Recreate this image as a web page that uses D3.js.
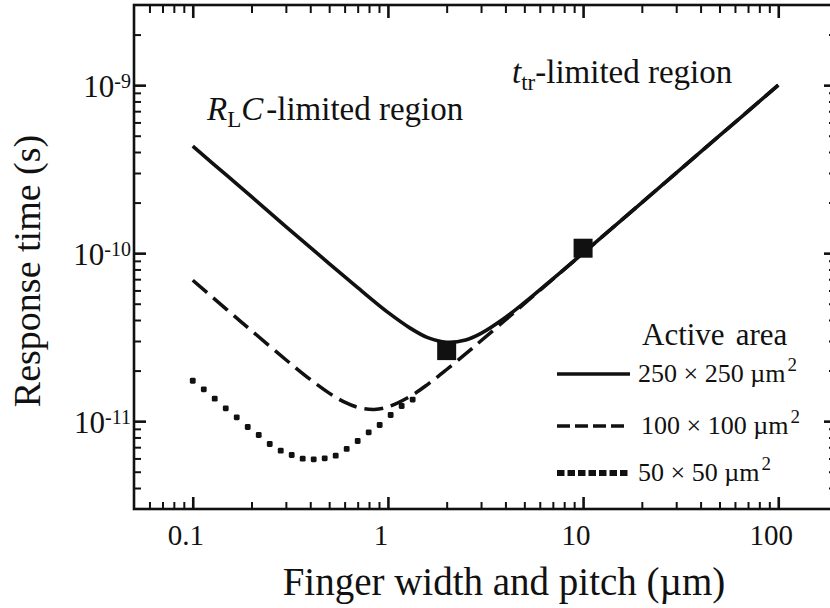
<!DOCTYPE html>
<html><head><meta charset="utf-8">
<script src="https://cdn.jsdelivr.net/npm/d3@7"></script>
<style>
body{margin:0;background:#fff}
svg{display:block}
text{font-family:"Liberation Serif","Times New Roman",serif;fill:#111}
.axis path,.axis line{stroke:#111;stroke-width:2.6;fill:none}
.minor line{stroke-width:2}
</style>
</head><body>
<svg id="c" width="830" height="608"></svg>
<script>
// ---- data ----
const widths   = [0.1, 0.15, 0.2, 0.3, 0.4, 0.5, 0.6, 0.7, 0.85, 1, 1.3, 1.6, 2, 2.5, 3, 4, 5, 7, 10, 20, 50, 100];
const area250  = [4.33e-10, 2.89e-10, 2.17e-10, 1.44e-10, 1.083e-10, 8.67e-11, 7.24e-11, 6.23e-11, 5.16e-11, 4.44e-11, 3.58e-11, 3.14e-11, 2.95e-11, 3.04e-11, 3.33e-11, 4.14e-11, 5.07e-11, 7.03e-11, 1.0e-10, 2.0e-10, 5.0e-10, 1.0e-9];
const area100  = [6.9e-11, 4.6e-11, 3.456e-11, 2.32e-11, 1.771e-11, 1.468e-11, 1.297e-11, 1.209e-11, 1.175e-11, 1.215e-11, 1.404e-11, 1.657e-11, 2.03e-11, 2.515e-11, 3.009e-11, 4.0e-11, 5.0e-11, 7.0e-11, 1.0e-10, 2.0e-10, 5.0e-10, 1.0e-9];
const dotWidths = [0.1, 0.1139, 0.1296, 0.1476, 0.168, 0.1913, 0.2178, 0.248, 0.2823, 0.3214, 0.3659, 0.4166, 0.4743, 0.54, 0.6148, 0.7, 0.797, 0.9073, 1.033, 1.176, 1.339];
const area50   = [1.74e-11, 1.547e-11, 1.36e-11, 1.192e-11, 1.054e-11, 9.23e-12, 8.27e-12, 7.31e-12, 6.67e-12, 6.29e-12, 5.98e-12, 5.93e-12, 6.01e-12, 6.23e-12, 6.83e-12, 7.62e-12, 8.58e-12, 9.49e-12, 1.088e-11, 1.231e-11, 1.345e-11];
const markerWidths = [2, 10];
const markerTimes  = [2.63e-11, 1.07e-10];
const xTickValues = [0.1, 1, 10, 100];
const xTickLabels = ["0.1", "1", "10", "100"];
const yTickValues = [1e-11, 1e-10, 1e-9];
const yTickExponents = ["-11", "-10", "-9"];
const legendLabels = ["250 \u00d7 250 \u00b5m", "100 \u00d7 100 \u00b5m", "50 \u00d7 50 \u00b5m"];

// ---- scales ----
const L = 134, R = 837, T = 5, B = 509;
const x = d3.scaleLog().domain([0.05, 200]).range([L, R]);
const y = d3.scaleLog().domain([3e-12, 3e-9]).range([B, T]);
const svg = d3.select("#c");

const isDecade = v => Math.abs(Math.log10(v) - Math.round(Math.log10(v))) < 1e-6;
const inside = (s, v) => { const d = s.domain(); return v > d[0] * 1.001 && v < d[1] * 0.999; };
const xMinor = x.ticks(40).filter(v => !isDecade(v) && inside(x, v));
const yMinor = y.ticks(40).filter(v => !isDecade(v) && inside(y, v));

function ax(gen, tr, vals, size, cls) {
  const g = svg.append("g").attr("class", "axis " + cls).attr("transform", tr)
    .call(gen.tickValues(vals).tickSizeInner(size).tickSizeOuter(0).tickFormat(""));
  g.select(".domain").remove();
  return g;
}
// major & minor ticks on all four sides (inward)
ax(d3.axisBottom(x), `translate(0,${B})`, xTickValues, -12, "");
ax(d3.axisBottom(x), `translate(0,${B})`, xMinor, -7, "minor");
ax(d3.axisTop(x), `translate(0,${T})`, xTickValues, -13, "");
ax(d3.axisTop(x), `translate(0,${T})`, xMinor, -8, "minor");
ax(d3.axisLeft(y), `translate(${L},0)`, yTickValues, -12, "");
ax(d3.axisLeft(y), `translate(${L},0)`, yMinor, -7, "minor");
ax(d3.axisRight(y), `translate(${R},0)`, yTickValues, -13, "");
ax(d3.axisRight(y), `translate(${R},0)`, yMinor, -8, "minor");

// frame
svg.append("rect").attr("x", x.range()[0]).attr("y", y.range()[1])
  .attr("width", x.range()[1] - x.range()[0]).attr("height", y.range()[0] - y.range()[1])
  .attr("fill", "none").attr("stroke", "#111").attr("stroke-width", 2.6);

// tick labels
svg.append("g").selectAll("text").data(xTickValues).join("text")
  .attr("x", (d) => x(d) - 7).attr("y", 545).attr("text-anchor", "middle")
  .attr("font-size", 29).text((d, i) => xTickLabels[i]);
const yl = svg.append("g").selectAll("text").data(yTickValues).join("text")
  .attr("x", 131).attr("y", d => y(d) + 12).attr("text-anchor", "end").attr("font-size", 31);
yl.append("tspan").text("10");
yl.append("tspan").attr("font-size", 20).attr("dy", -9).text((d, i) => yTickExponents[i]);

// axis titles
svg.append("text").attr("x", 504).attr("y", 595).attr("text-anchor", "middle")
  .attr("font-size", 39).text("Finger width and pitch (\u00b5m)");
svg.append("text").attr("transform", "translate(40,271) rotate(-90)").attr("text-anchor", "middle")
  .attr("font-size", 38).text("Response time (s)");

// curves
const line = d3.line().x(d => x(d[0])).y(d => y(d[1])).curve(d3.curveCatmullRom.alpha(0.5));
svg.append("path").datum(widths.map((w, i) => [w, area100[i]])).attr("d", line)
  .attr("fill", "none").attr("stroke", "#111").attr("stroke-width", 3.5).attr("stroke-dasharray", "19,8");
svg.append("path").datum(widths.map((w, i) => [w, area250[i]])).attr("d", line)
  .attr("fill", "none").attr("stroke", "#111").attr("stroke-width", 3.6);
svg.append("g").selectAll("rect").data(dotWidths.map((w, i) => [w, area50[i]])).join("rect")
  .attr("x", d => x(d[0]) - 2.9).attr("y", d => y(d[1]) - 2.9).attr("width", 5.8).attr("height", 5.8)
  .attr("rx", 1.4).attr("fill", "#111");

// measured markers
svg.append("g").selectAll("rect").data(markerWidths.map((w, i) => [w, markerTimes[i]])).join("rect")
  .attr("x", d => x(d[0]) - 9.5).attr("y", d => y(d[1]) - 9.5).attr("width", 19).attr("height", 19)
  .attr("fill", "#111");

// annotations
const a1 = svg.append("text").attr("x", 207).attr("y", 120).attr("font-size", 33);
a1.append("tspan").attr("font-style", "italic").text("R");
a1.append("tspan").attr("font-size", 23).attr("dy", 7).text("L");
a1.append("tspan").attr("font-style", "italic").attr("dy", -7).text("C");
a1.append("tspan").attr("dx", 3).text("-limited region");
const a2 = svg.append("text").attr("x", 512).attr("y", 83).attr("font-size", 33);
a2.append("tspan").attr("font-style", "italic").text("t");
a2.append("tspan").attr("font-size", 23).attr("dy", 7).text("tr");
a2.append("tspan").attr("dy", -7).text("-limited region");

// legend
const lg = svg.append("g");
const at = lg.append("text").attr("x", 642).attr("y", 345).attr("font-size", 31);
at.append("tspan").text("Active");
at.append("tspan").attr("dx", 11).text("area");
const legY = [374, 426, 473];
lg.append("line").attr("x1", 557).attr("x2", 630).attr("y1", legY[0]).attr("y2", legY[0])
  .attr("stroke", "#111").attr("stroke-width", 3.5);
lg.append("line").attr("x1", 557).attr("x2", 624).attr("y1", legY[1]).attr("y2", legY[1])
  .attr("stroke", "#111").attr("stroke-width", 3.5).attr("stroke-dasharray", "13,5");
lg.append("line").attr("x1", 557).attr("x2", 630).attr("y1", legY[2]).attr("y2", legY[2])
  .attr("stroke", "#111").attr("stroke-width", 6).attr("stroke-dasharray", "7.5,3");
const lt = lg.selectAll("text.l").data(legendLabels).join("text").attr("class", "l")
  .attr("x", (d, i) => i === 1 ? 641 : 638).attr("y", (d, i) => legY[i] + 8).attr("font-size", 26);
lt.append("tspan").text(d => d);
lt.append("tspan").attr("font-size", 19).attr("dy", -11).attr("dx", 2).text("2");
</script>
</body></html>
